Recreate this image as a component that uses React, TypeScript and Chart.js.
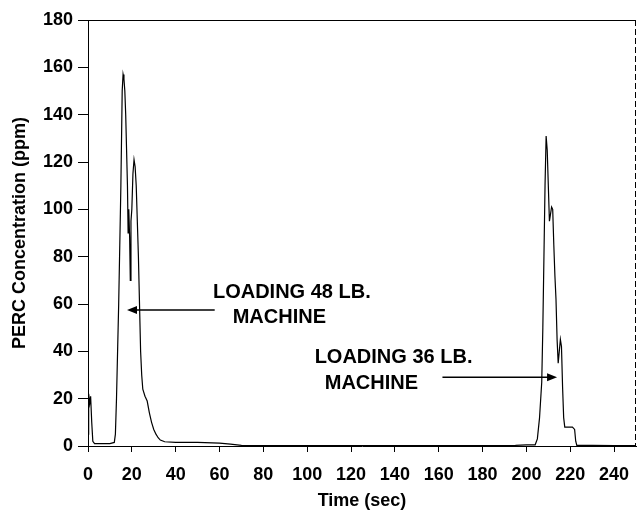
import React, { useEffect, useRef } from "react";
import { Chart, registerables } from "chart.js";

Chart.register(...registerables);

// Time (sec) and PERC concentration (ppm)
const times = [
  0, 0.3, 0.8, 1.2, 1.7, 2.2, 3, 6, 10, 12, 12.5, 13, 13.5, 14, 14.5, 15, 15.3, 15.6, 16, 16.4,
  16.8, 17.2, 17.6, 18, 18.3, 18.6, 19, 19.3, 19.6, 20, 20.5, 21, 21.5, 22, 22.5, 23, 23.5, 24,
  24.5, 25, 26, 27, 28, 29, 30, 31, 32, 33, 35, 40, 50, 60, 65, 70, 80, 100, 150, 195, 200, 204,
  205, 206, 207, 207.5, 208, 208.5, 209, 209.5, 210, 210.5, 211, 211.5, 212, 212.5, 213, 213.5,
  214, 214.5, 215, 215.5, 216, 216.5, 217, 217.5, 218, 221, 222, 222.5, 223, 230, 240, 250,
];
const concentration = [
  5, 22, 18, 21, 10, 2, 1, 1, 1, 1.5, 5, 20, 40, 60, 85, 110, 130, 150, 157, 155,
  150, 140, 125, 110, 90, 100, 88, 70, 95, 100, 115, 121, 118, 110, 95, 80, 60, 40,
  30, 24, 21, 19, 14, 10, 7, 5, 3.5, 2.5, 1.8, 1.5, 1.5, 1.2, 0.8, 0.3, 0.2, 0.2, 0.2, 0.3, 0.5, 0.5,
  3, 12, 27, 50, 80, 110, 131, 125, 110, 95, 98, 101, 100, 85, 72, 62,
  45, 35, 40, 45, 42, 25, 12, 8, 8, 8, 7, 2, 0.3, 0.3, 0.2, 0.2,
];

const xTickValues = [0, 20, 40, 60, 80, 100, 120, 140, 160, 180, 200, 220, 240];
const yTickValues = [0, 20, 40, 60, 80, 100, 120, 140, 160, 180];

const xTitle = "Time (sec)";
const yTitle = "PERC Concentration (ppm)";

// Annotation texts with their anchor in data units
const labels = [
  { text: "LOADING 48 LB.", x: 57, y: 65 },
  { text: "MACHINE", x: 66, y: 54.5 },
  { text: "LOADING 36 LB.", x: 103.4, y: 37.2 },
  { text: "MACHINE", x: 108, y: 26.6 },
];
const arrows = [
  { fromX: 57.8, toX: 17.8, y: 57.5 },
  { fromX: 161.7, toX: 214, y: 29 },
];

const FONT = "'Liberation Sans', Arial, sans-serif";

const annotationPlugin = {
  id: "annot",
  afterDatasetsDraw(chart: any) {
    const { ctx, chartArea, scales } = chart;
    const xs = scales.x;
    const ys = scales.y;
    ctx.save();
    // frame
    ctx.strokeStyle = "#000";
    ctx.lineWidth = 1;
    ctx.beginPath();
    ctx.moveTo(chartArea.left, chartArea.top + 0.5);
    ctx.lineTo(chartArea.right, chartArea.top + 0.5);
    ctx.stroke();
    ctx.setLineDash([6, 3]);
    ctx.beginPath();
    ctx.moveTo(chartArea.right - 0.5, chartArea.top);
    ctx.lineTo(chartArea.right - 0.5, chartArea.bottom);
    ctx.stroke();
    ctx.setLineDash([]);
    // labels
    ctx.fillStyle = "#000";
    ctx.font = `bold 20px ${FONT}`;
    ctx.textAlign = "left";
    ctx.textBaseline = "middle";
    for (const l of labels) {
      ctx.fillText(l.text, xs.getPixelForValue(l.x), ys.getPixelForValue(l.y));
    }
    // arrows
    ctx.lineWidth = 1.5;
    for (const a of arrows) {
      const x1 = xs.getPixelForValue(a.fromX);
      const x2 = xs.getPixelForValue(a.toX);
      const y = ys.getPixelForValue(a.y);
      const dir = x2 > x1 ? 1 : -1;
      ctx.beginPath();
      ctx.moveTo(x1, y);
      ctx.lineTo(x2 - dir * 6, y);
      ctx.stroke();
      ctx.beginPath();
      ctx.moveTo(x2, y);
      ctx.lineTo(x2 - dir * 10, y - 4);
      ctx.lineTo(x2 - dir * 10, y + 4);
      ctx.closePath();
      ctx.fill();
    }
    ctx.restore();
  },
};

export default function App() {
  const canvasRef = useRef<HTMLCanvasElement | null>(null);

  useEffect(() => {
    if (!canvasRef.current) return;
    const chart = new Chart(canvasRef.current, {
      type: "line",
      data: {
        datasets: [
          {
            data: times.map((t, i) => ({ x: t, y: concentration[i] })),
            borderColor: "#000",
            borderWidth: 1.2,
            pointRadius: 0,
            tension: 0,
            fill: false,
          },
        ],
      },
      options: {
        animation: false,
        responsive: false,
        maintainAspectRatio: false,
        layout: { padding: { top: 20, right: 1, left: 0, bottom: 0 } },
        plugins: { legend: { display: false }, tooltip: { enabled: false } },
        scales: {
          x: {
            type: "linear",
            min: 0,
            max: 250,
            afterBuildTicks: (s: any) => {
              s.ticks = xTickValues.map((v) => ({ value: v }));
            },
            afterFit: (s: any) => {
              s.height = 70;
              s.paddingLeft = 0;
              s.paddingRight = 0;
            },
            ticks: {
              color: "#000",
              font: { family: FONT, size: 18, weight: "bold" },
              padding: 12,
              maxRotation: 0,
              autoSkip: false,
            },
            grid: {
              drawOnChartArea: false,
              drawTicks: true,
              tickLength: 6,
              color: "#000",
            },
            border: { display: true, color: "#000", width: 1 },
            title: {
              display: true,
              text: xTitle,
              color: "#000",
              font: { family: FONT, size: 18, weight: "bold" },
              padding: { top: 0, bottom: 4 },
            },
          },
          y: {
            type: "linear",
            min: 0,
            max: 180,
            afterBuildTicks: (s: any) => {
              s.ticks = yTickValues.map((v) => ({ value: v }));
            },
            afterFit: (s: any) => {
              s.width = 88;
              s.paddingTop = 0;
              s.paddingBottom = 0;
            },
            ticks: {
              color: "#000",
              font: { family: FONT, size: 18, weight: "bold" },
              padding: 5,
              autoSkip: false,
            },
            grid: {
              drawOnChartArea: false,
              drawTicks: true,
              tickLength: 10,
              color: "#000",
            },
            border: { display: true, color: "#000", width: 1 },
            title: {
              display: true,
              text: yTitle,
              color: "#000",
              font: { family: FONT, size: 18, weight: "bold" },
              padding: { top: 9, bottom: 0 },
            },
          },
        },
      },
      plugins: [annotationPlugin],
    } as any);
    return () => chart.destroy();
  }, []);

  return (
    <div style={{ position: "fixed", left: 0, top: 0, width: 637, height: 516, background: "#fff" }}>
      <canvas ref={canvasRef} width={637} height={516} style={{ width: 637, height: 516 }} />
    </div>
  );
}
